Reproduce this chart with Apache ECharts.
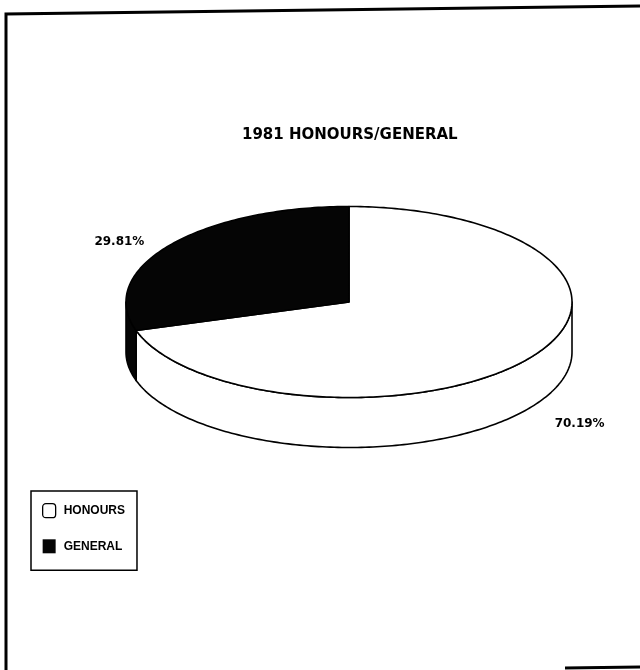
<!DOCTYPE html>
<html>
<head>
<meta charset="utf-8">
<script src="https://cdn.jsdelivr.net/npm/echarts@6/dist/echarts.min.js"></script>
<style>
html,body{margin:0;padding:0;background:#fff;}
#chart{width:640px;height:670px;}
</style>
</head>
<body>
<div id="chart"></div>
<script>
// ---- data ----
const categories = ['HONOURS', 'GENERAL'];
const values = [70.19, 29.81];
const percentLabels = ['70.19%', '29.81%'];
const titleText = '1981 HONOURS/GENERAL';

// ---- layout / style ----
const PIE = { cx: 349, cy: 302, rx: 223, ry: 95.5, depth: 50 };
const fills = ['#ffffff', '#050505'];
const LABEL_FONT = 'bold 12px "DejaVu Sans", sans-serif';

const total = values.reduce((a, b) => a + b, 0);

function pt(deg, drop) {
  const t = deg * Math.PI / 180;
  return [PIE.cx + PIE.rx * Math.cos(t), PIE.cy - PIE.ry * Math.sin(t) + (drop || 0)];
}
function arc(a, b, drop) {
  // from angle a to b (any direction), sampled
  const pts = [];
  const n = Math.max(2, Math.ceil(Math.abs(b - a) / 1));
  for (let k = 0; k <= n; k++) pts.push(pt(a + (b - a) * k / n, drop));
  return pts;
}

function makeRender(idx) {
  return function (params, api) {
    const v = api.value(0);
    let before = 0;
    for (let k = 0; k < idx; k++) before += values[k];
    const start = 90 - 360 * before / total;
    const end = start - 360 * v / total;
    const children = [];
    const stroke = { stroke: '#000', lineWidth: 1.6, lineJoin: 'round' };
    // side walls (front half only: angles in [-180+360k, 360k])
    for (let k = -2; k <= 1; k++) {
      const lo = Math.max(end, -180 + 360 * k);
      const hi = Math.min(start, 360 * k);
      if (hi - lo > 0.01) {
        const top = arc(hi, lo, 0);
        const bot = arc(lo, hi, PIE.depth);
        children.push({
          type: 'polygon',
          shape: { points: top.concat(bot) },
          style: Object.assign({ fill: fills[idx] }, stroke)
        });
      }
    }
    // top face
    const face = [[PIE.cx, PIE.cy]].concat(arc(start, end, 0));
    children.push({
      type: 'polygon',
      shape: { points: face },
      style: Object.assign({ fill: fills[idx] }, stroke)
    });
    // label
    const mid = (start + end) / 2;
    const s = Math.sin(mid * Math.PI / 180), c = Math.cos(mid * Math.PI / 180);
    const p = pt(mid, s < 0 ? PIE.depth : 0);
    const right = c >= 0;
    children.push({
      type: 'text',
      x: p[0] + (right ? 26 : -25),
      y: p[1] + (s < 0 ? 15 : -4),
      style: {
        text: percentLabels[idx],
        fill: '#000',
        font: LABEL_FONT,
        align: right ? 'left' : 'right',
        verticalAlign: 'middle'
      }
    });
    return { type: 'group', children: children };
  };
}

const chart = echarts.init(document.getElementById('chart'), null, { renderer: 'canvas' });
chart.setOption({
  animation: false,
  backgroundColor: '#fff',
  title: {
    text: titleText,
    left: 242,
    top: 126,
    padding: 0,
    textStyle: {
      fontFamily: '"DejaVu Sans", sans-serif',
      fontWeight: 'bold',
      fontSize: 15,
      lineHeight: 18,
      color: '#000'
    }
  },
  legend: {
    orient: 'vertical',
    left: 31,
    top: 491,
    padding: [12, 12, 17, 11],
    borderColor: '#000',
    borderWidth: 1.5,
    itemWidth: 13,
    itemHeight: 14,
    itemGap: 21,
    selectedMode: false,
    textStyle: {
      fontFamily: '"Liberation Sans", Arial, sans-serif',
      fontWeight: 'bold',
      fontSize: 12,
      color: '#000',
      padding: [0, 0, 0, 3]
    },
    data: [
      { name: categories[0], icon: 'roundRect', itemStyle: { color: '#fff', borderColor: '#000', borderWidth: 1.3 } },
      { name: categories[1], icon: 'rect', itemStyle: { color: '#050505', borderColor: '#000', borderWidth: 0 } }
    ]
  },
  graphic: [
    { type: 'polyline', shape: { points: [[6, 670], [6, 14], [640, 6]] }, style: { stroke: '#000', lineWidth: 3, fill: null } },
    { type: 'line', shape: { x1: 565, y1: 668, x2: 640, y2: 667 }, style: { stroke: '#000', lineWidth: 3 } }
  ],
  series: categories.map((name, i) => ({
    type: 'custom',
    name: name,
    coordinateSystem: 'none',
    itemStyle: { color: fills[i] },
    renderItem: makeRender(i),
    data: [values[i]]
  }))
});
</script>
</body>
</html>
